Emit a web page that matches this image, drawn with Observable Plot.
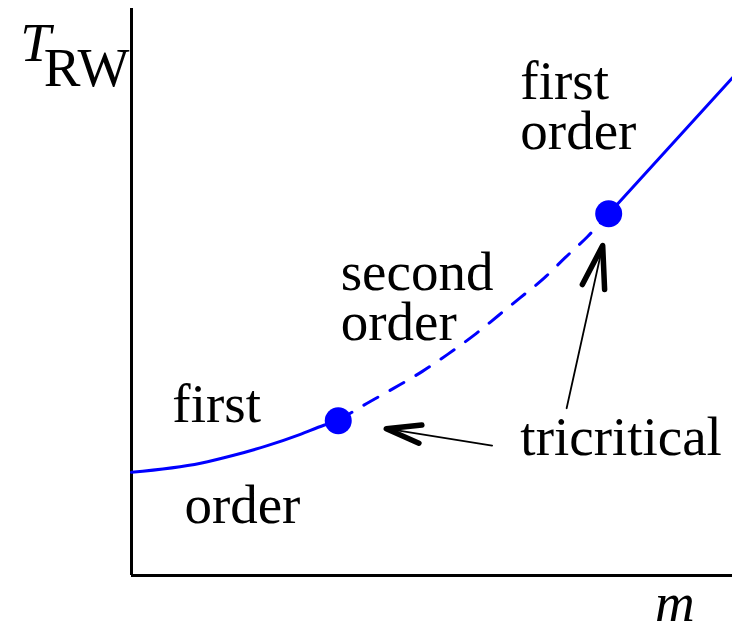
<!DOCTYPE html>
<html>
<head>
<meta charset="utf-8">
<script src="https://cdn.jsdelivr.net/npm/d3@7"></script>
<script src="https://cdn.jsdelivr.net/npm/@observablehq/plot@0.6"></script>
<style>
  html, body { margin: 0; padding: 0; background: #fff; }
  #chart svg { display: block; }
</style>
</head>
<body>
<div id="chart"></div>
<script>
// Phase boundary T_RW(m): first order at low m, second order in between, first order at high m
const lowFirstM  = [0, 1.15, 1.70, 2.26, 2.81, 3.20, 3.44];
const lowFirstT  = [1.82, 1.98, 2.12, 2.29, 2.49, 2.65, 2.73];
const secondM    = [3.44, 3.86, 4.36, 4.84, 5.26, 5.69, 6.11, 6.47, 6.86, 7.22, 7.59, 7.94];
const secondT    = [2.73, 3.00, 3.30, 3.60, 3.90, 4.23, 4.59, 4.90, 5.24, 5.61, 5.98, 6.38];
const highFirstM = [7.94, 10];
const highFirstT = [6.38, 8.78];

// Tricritical points
const triM = [3.44, 7.94];
const triT = [2.73, 6.38];

// Region labels
const labelText = ["first", "order", "second\norder", "first\norder", "tricritical"];
const labelM    = [0.68, 0.88, 3.48, 6.47, 6.47];
const labelT    = [2.70, 0.92, 4.15, 7.53, 2.12];

// Arrows from the "tricritical" label to the two points
const arrowM1 = [6.00, 7.24];
const arrowT1 = [2.29, 2.95];
const arrowM2 = [4.24, 7.84];
const arrowT2 = [2.59, 5.82];

const toRows = (ms, ts) => ms.map((m, i) => ({m, T: ts[i]}));
const lowFirst = toRows(lowFirstM, lowFirstT);
const second = toRows(secondM, secondT);
const highFirst = toRows(highFirstM, highFirstT);
const tri = toRows(triM, triT);
const labels = labelText.map((text, i) => ({text, m: labelM[i], T: labelT[i]}));
const arrows = arrowM1.map((m1, i) => ({m1, T1: arrowT1[i], m2: arrowM2[i], T2: arrowT2[i]}));

const font = "'Liberation Serif', 'Times New Roman', serif";
const blue = "#0000ff";
const fs = 55;

const plot = Plot.plot({
  width: 732,
  height: 628,
  marginLeft: 131,
  marginRight: 0,
  marginTop: 8,
  marginBottom: 53,
  style: {fontFamily: font, background: "#fff", overflow: "visible"},
  x: {domain: [0, 10], axis: null},
  y: {domain: [0, 10], axis: null},
  marks: [
    Plot.ruleX([0], {stroke: "#000", strokeWidth: 3}),
    Plot.ruleY([0], {stroke: "#000", strokeWidth: 3}),
    Plot.line(lowFirst, {x: "m", y: "T", stroke: blue, strokeWidth: 3, curve: "monotone-x"}),
    Plot.line(second, {x: "m", y: "T", stroke: blue, strokeWidth: 3, curve: "monotone-x", strokeDasharray: "16 14"}),
    Plot.line(highFirst, {x: "m", y: "T", stroke: blue, strokeWidth: 3}),
    Plot.dot(tri, {x: "m", y: "T", r: 13.5, fill: blue, stroke: "none"}),
    // thin shafts
    Plot.arrow(arrows, {x1: "m1", y1: "T1", x2: "m2", y2: "T2", stroke: "#000", strokeWidth: 1.8, headLength: 0}),
    // bold arrowheads (their shafts are dropped below)
    Plot.arrow(arrows, {x1: "m1", y1: "T1", x2: "m2", y2: "T2", stroke: "#000", strokeWidth: 5.5, headLength: 12, headAngle: 30, strokeLinejoin: "round"}),
    Plot.text(labels, {x: "m", y: "T", text: "text", textAnchor: "start", lineAnchor: "bottom", lineHeight: 0.91, fontSize: fs, fill: "#000"}),
    // axis titles
    Plot.text(["T"], {x: -1.85, y: 9.08, textAnchor: "start", lineAnchor: "bottom", fontSize: fs, fontStyle: "italic", fill: "#000"}),
    Plot.text(["RW"], {x: -1.46, y: 8.64, textAnchor: "start", lineAnchor: "bottom", fontSize: fs, fill: "#000"}),
    Plot.text(["m"], {x: 9.04, y: -0.80, textAnchor: "middle", lineAnchor: "bottom", fontSize: fs, fontStyle: "italic", fill: "#000"})
  ]
});

document.getElementById("chart").appendChild(plot);

// Keep only the head strokes (the three-point subpath) of the bold arrows
const arrowGroups = plot.querySelectorAll('g[aria-label="arrow"]');
if (arrowGroups.length > 1) {
  arrowGroups[1].querySelectorAll("path").forEach((p) => {
    const parts = (p.getAttribute("d") || "").split(/(?=M)/);
    const head = parts.filter((s) => (s.match(/L/g) || []).length >= 2);
    if (head.length) p.setAttribute("d", head.join(""));
  });
}
</script>
</body>
</html>
